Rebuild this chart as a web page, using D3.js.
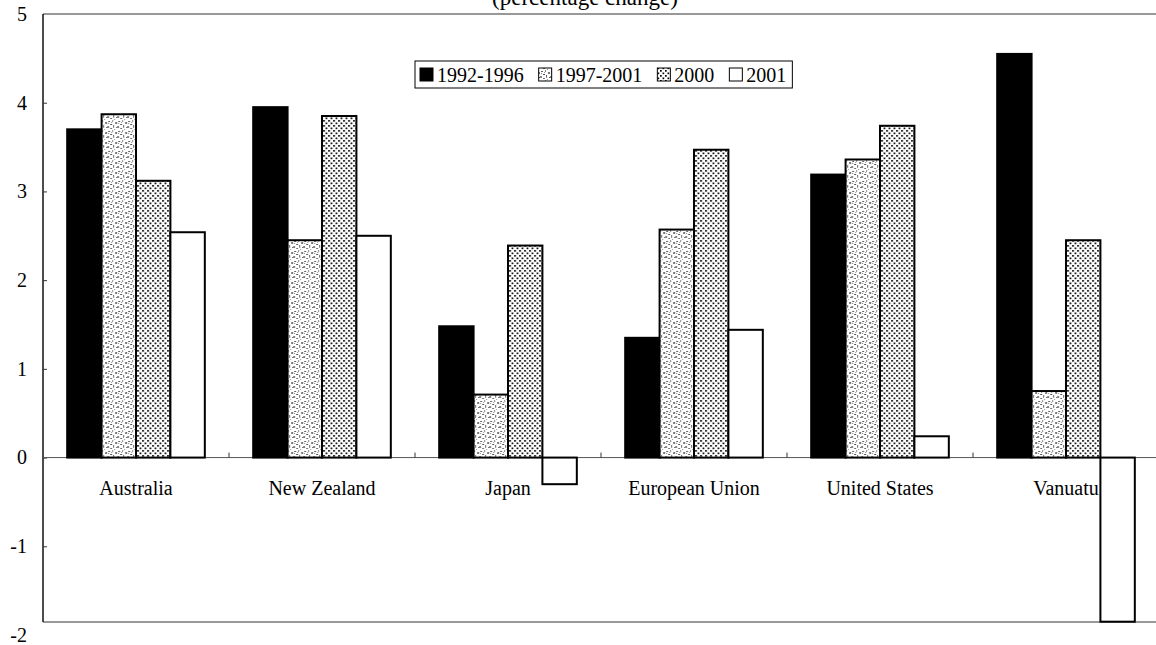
<!DOCTYPE html>
<html>
<head>
<meta charset="utf-8">
<script src="https://cdn.jsdelivr.net/npm/d3@7"></script>
<style>
  body { margin: 0; background: #fff; }
  svg { display: block; }
  text { font-family: "Liberation Serif", "Times New Roman", serif; fill: #000; }
</style>
</head>
<body>
<svg id="chart" width="1156" height="645"></svg>
<script>
// Real GDP growth by economy, four periods
const categories = ["Australia", "New Zealand", "Japan", "European Union", "United States", "Vanuatu"];
const seriesNames = ["1992-1996", "1997-2001", "2000", "2001"];
const growth1992to1996 = [3.70, 3.95, 1.48, 1.35, 3.19, 4.55];
const growth1997to2001 = [3.87, 2.45, 0.71, 2.57, 3.36, 0.75];
const growth2000 = [3.12, 3.85, 2.39, 3.47, 3.74, 2.45];
const growth2001 = [2.54, 2.50, -0.30, 1.44, 0.24, -1.85];
const yTicks = [5, 4, 3, 2, 1, 0, -1, -2];
const title = "(percentage change)";

const seriesValues = [growth1992to1996, growth1997to2001, growth2000, growth2001];
const seriesFill = ["#000", "url(#speckle)", "url(#dots)", "#fff"];

const frame = { left: 43, top: 14, bottom: 622, right: 1156 };

const svg = d3.select("#chart");

// ---- fill patterns ----
const defs = svg.append("defs");
const speckle = defs.append("pattern")
  .attr("id", "speckle").attr("patternUnits", "userSpaceOnUse")
  .attr("width", 10).attr("height", 10);
speckle.append("rect").attr("width", 10).attr("height", 10).attr("fill", "#fff");
[[1,1,2,1,"#666"],[5,0,1,2,"#888"],[8,2,2,2,"#777"],[3,4,2,1,"#555"],
 [0,6,2,2,"#888"],[6,5,1,2,"#666"],[9,7,1,1,"#555"],[3,8,2,1,"#777"],
 [7,9,1,1,"#999"],[4,2,1,1,"#999"],[1,3,1,1,"#888"],[6,7,1,1,"#888"]].forEach(([x, y, w, h, c]) => {
  speckle.append("rect").attr("x", x).attr("y", y).attr("width", w).attr("height", h).attr("fill", c);
});

const dots = defs.append("pattern")
  .attr("id", "dots").attr("patternUnits", "userSpaceOnUse")
  .attr("width", 5).attr("height", 5);
dots.append("rect").attr("width", 5).attr("height", 5).attr("fill", "#fff");
dots.append("rect").attr("x", 0).attr("y", 0).attr("width", 1.7).attr("height", 1.7).attr("fill", "#000");
dots.append("rect").attr("x", 2.5).attr("y", 2.5).attr("width", 1.7).attr("height", 1.7).attr("fill", "#000");

// ---- scales ----
const x0 = d3.scaleBand().domain(categories).range([43, 1159])
  .paddingInner(0.26).paddingOuter(0.13);
const x1 = d3.scaleBand().domain(seriesNames).range([0, x0.bandwidth()]);
const y = d3.scaleLinear().domain([-2, 5]).range([635, 14]);

// ---- title (sits at the very top edge) ----
svg.append("text")
  .attr("x", 585).attr("y", 5)
  .attr("text-anchor", "middle")
  .style("font-size", "23px")
  .text(title);

// ---- frame ----
svg.append("line").attr("x1", frame.left).attr("x2", frame.right)
  .attr("y1", frame.top).attr("y2", frame.top)
  .attr("stroke", "#333").attr("stroke-width", 1);
svg.append("line").attr("x1", frame.left).attr("x2", frame.right)
  .attr("y1", frame.bottom).attr("y2", frame.bottom)
  .attr("stroke", "#333").attr("stroke-width", 1);
svg.append("line").attr("x1", frame.left).attr("x2", frame.left)
  .attr("y1", frame.top).attr("y2", frame.bottom)
  .attr("stroke", "#111").attr("stroke-width", 1.5);

// ---- y axis ----
const yAxis = d3.axisLeft(y).tickValues(yTicks)
  .tickSizeInner(-4).tickSizeOuter(0).tickPadding(16)
  .tickFormat(d => String(d));
const gy = svg.append("g").attr("transform", `translate(${frame.left},0)`).call(yAxis);
gy.select(".domain").remove();
gy.selectAll(".tick line")
  .attr("stroke", "#333")
  .attr("display", d => (y(d) > frame.bottom || y(d) <= frame.top) ? "none" : null);
gy.selectAll(".tick text")
  .style("font-family", "'Liberation Serif', 'Times New Roman', serif")
  .style("font-size", "20px").attr("fill", "#000");

// ---- zero line with category separators ----
svg.append("line").attr("x1", frame.left).attr("x2", frame.right)
  .attr("y1", y(0)).attr("y2", y(0))
  .attr("stroke", "#555").attr("stroke-width", 1);
const separators = categories.slice(1).map(c => x0(c) - x0.step() * x0.paddingInner() / 2);
svg.append("g").selectAll("line").data(separators).join("line")
  .attr("x1", d => d).attr("x2", d => d)
  .attr("y1", y(0)).attr("y2", y(0) - 5)
  .attr("stroke", "#333").attr("stroke-width", 1);

// ---- category labels ----
svg.append("g").selectAll("text").data(categories).join("text")
  .attr("x", d => x0(d) + x0.bandwidth() / 2)
  .attr("y", 495)
  .attr("text-anchor", "middle")
  .style("font-size", "20px")
  .text(d => d);

// ---- bars ----
const groups = svg.append("g").selectAll("g").data(categories).join("g")
  .attr("transform", d => `translate(${x0(d)},0)`);
groups.selectAll("rect")
  .data((c, ci) => seriesNames.map((s, si) => ({ s, si, v: seriesValues[si][ci] })))
  .join("rect")
  .attr("x", d => x1(d.s))
  .attr("width", x1.bandwidth())
  .attr("y", d => y(Math.max(0, d.v)))
  .attr("height", d => Math.abs(y(d.v) - y(0)))
  .attr("fill", d => seriesFill[d.si])
  .attr("stroke", "#000")
  .attr("stroke-width", 2);

// ---- legend ----
const legend = svg.append("g");
const legendBox = legend.append("rect")
  .attr("x", 415).attr("y", 61).attr("height", 27)
  .attr("fill", "#fff").attr("stroke", "#000").attr("stroke-width", 1);
let lx = 420;
seriesNames.forEach((name, i) => {
  legend.append("rect")
    .attr("x", lx).attr("y", 68).attr("width", 13).attr("height", 13)
    .attr("fill", seriesFill[i]).attr("stroke", "#000").attr("stroke-width", 1);
  const t = legend.append("text")
    .attr("x", lx + 17).attr("y", 81.5)
    .style("font-size", "20px")
    .text(name);
  lx += 17 + t.node().getComputedTextLength() + 15;
});
legendBox.attr("width", lx - 15 + 6 - 415);
</script>
</body>
</html>
